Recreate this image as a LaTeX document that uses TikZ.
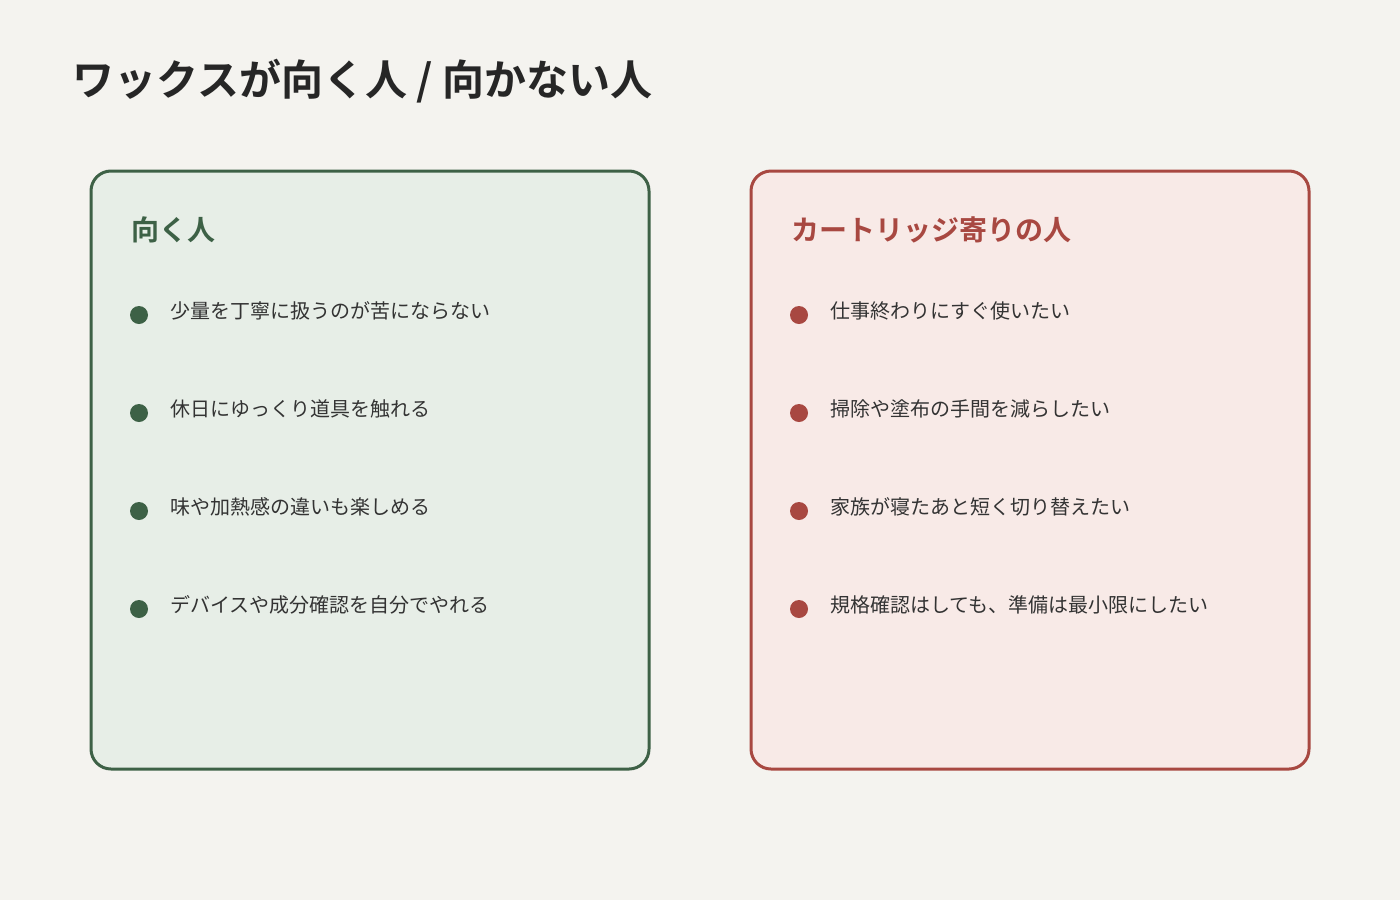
\documentclass[tikz,border=0pt]{standalone}
\usepackage{fontspec}
\setmainfont{Noto Sans CJK JP}
\newfontfamily\jpb{Noto Sans CJK JP Bold}
\definecolor{bg}{HTML}{F4F3EF}
\definecolor{gr}{HTML}{3D6146}
\definecolor{grf}{HTML}{E7EEE7}
\definecolor{rd}{HTML}{A84841}
\definecolor{rdf}{HTML}{F8EAE7}
\definecolor{tx}{HTML}{333333}
\begin{document}
\begin{tikzpicture}[x=0.5pt,y=-0.5pt,
  card/.style={line width=1.5pt,rounded corners=10pt},
  item/.style={anchor=west,font=\fontsize{10}{12}\selectfont,text=tx,inner sep=0},
  head/.style={anchor=west,font=\jpb\fontsize{14}{16}\selectfont,inner sep=0}]
\fill[bg] (0,0) rectangle (1400,900);
\useasboundingbox (0,0) rectangle (1400,900);
\node[anchor=west,inner sep=0,font=\jpb\fontsize{21}{24}\selectfont,text=black!85] (title) at (72,81) {ワックスが向く人 / 向かない人};
\draw[card,draw=gr,fill=grf] (91,171) rectangle (649,769);
\draw[card,draw=rd,fill=rdf] (751,171) rectangle (1309,769);
\node[head,text=gr] (lh) at (131,230) {向く人};
\node[head,text=rd] (rh) at (791,230) {カートリッジ寄りの人};
\foreach \t [count=\i] in {少量を丁寧に扱うのが苦にならない,休日にゆっくり道具を触れる,味や加熱感の違いも楽しめる,デバイスや成分確認を自分でやれる}{
  \fill[gr] (139,{315+98*(\i-1)}) circle (9);
  \node[item] (l\i) at (170,{311+98*(\i-1)}) {\t};
}
\foreach \t [count=\i] in {仕事終わりにすぐ使いたい,掃除や塗布の手間を減らしたい,家族が寝たあと短く切り替えたい,規格確認はしても、準備は最小限にしたい}{
  \fill[rd] (799,{315+98*(\i-1)}) circle (9);
  \node[item] (r\i) at (830,{311+98*(\i-1)}) {\t};
}
\end{tikzpicture}
\end{document}
